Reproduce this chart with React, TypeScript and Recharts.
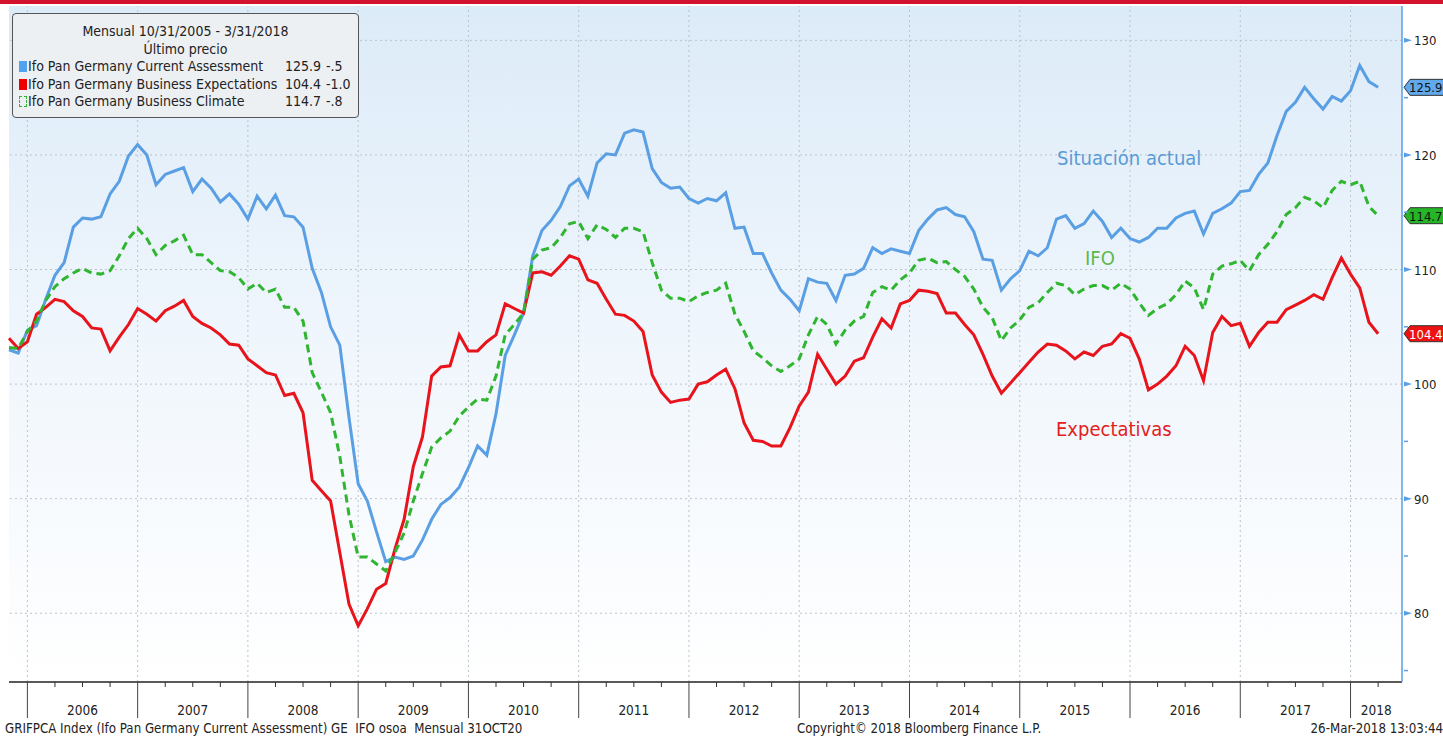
import React from "react";
import { LineChart, Line, XAxis, YAxis, ReferenceLine, ReferenceDot } from "recharts";

// Monthly readings, Oct 2005 .. Mar 2018 (150 months)
const currentAssessment = [
  103.0, 102.7, 104.7, 105.1, 107.4, 109.5, 110.6, 113.7, 114.5, 114.4, 114.6, 116.6,
  117.7, 119.9, 120.9, 120.0, 117.4, 118.3, 118.6, 118.9, 116.8, 117.9, 117.1, 115.9,
  116.6, 115.7, 114.4, 116.4, 115.3, 116.5, 114.7, 114.6, 113.7, 110.1, 108.0, 105.0,
  103.4, 97.1, 91.3, 89.8, 87.1, 84.5, 84.9, 84.7, 85.0, 86.4, 88.2, 89.5,
  90.1, 91.0, 92.7, 94.6, 93.8, 97.4, 102.5, 104.3, 106.2, 111.2, 113.4, 114.3,
  115.5, 117.3, 117.9, 116.4, 119.3, 120.1, 120.0, 121.9, 122.2, 122.0, 118.8, 117.6,
  117.1, 117.2, 116.2, 115.8, 116.2, 116.0, 116.7, 113.6, 113.7, 111.4, 111.4, 109.7,
  108.2, 107.4, 106.4, 109.2, 108.9, 108.8, 107.3, 109.5, 109.6, 110.1, 111.9, 111.4,
  111.8, 111.6, 111.4, 113.4, 114.4, 115.2, 115.4, 114.8, 114.6, 113.3, 110.9, 110.8,
  108.2, 109.2, 109.9, 111.6, 111.2, 111.9, 114.4, 114.7, 113.6, 114.0, 115.1, 114.2,
  112.8, 113.6, 112.7, 112.4, 112.8, 113.6, 113.6, 114.5, 114.9, 115.1, 113.1, 114.9,
  115.3, 115.8, 116.8, 116.9, 118.3, 119.3, 121.7, 123.8, 124.6, 125.9, 124.9, 124.0,
  125.1, 124.7, 125.6, 127.8, 126.4, 125.9,
];

const businessExpectations = [
  104.0, 103.1, 103.7, 106.1, 106.7, 107.4, 107.2, 106.4, 105.9, 104.9, 104.8, 102.9,
  104.1, 105.2, 106.6, 106.1, 105.5, 106.4, 106.8, 107.3, 105.9, 105.3, 104.9, 104.3,
  103.5, 103.4, 102.2, 101.6, 101.0, 100.8, 99.0, 99.2, 97.5, 91.6, 90.7, 89.8,
  85.3, 80.8, 78.9, 80.4, 82.1, 82.6, 85.6, 88.2, 92.8, 95.4, 100.7, 101.5,
  101.6, 104.3, 102.9, 102.9, 103.7, 104.3, 107.0, 106.6, 106.2, 109.7, 109.8, 109.5,
  110.3, 111.2, 110.9, 109.1, 108.8, 107.4, 106.1, 106.0, 105.5, 104.6, 100.8, 99.3,
  98.4, 98.6, 98.7, 100.0, 100.2, 100.8, 101.3, 99.6, 96.6, 95.1, 95.0, 94.6,
  94.6, 96.2, 98.1, 99.3, 102.6, 101.3, 100.0, 100.7, 102.0, 102.3, 104.1, 105.7,
  104.9, 107.0, 107.3, 108.2, 108.1, 107.9, 106.2, 106.2, 105.2, 104.3, 102.6, 100.7,
  99.2, 100.1, 101.0, 101.9, 102.8, 103.5, 103.4, 102.9, 102.2, 102.8, 102.5, 103.3,
  103.5, 104.4, 104.0, 102.2, 99.5, 100.0, 100.7, 101.6, 103.3, 102.5, 100.3, 104.5,
  105.9, 105.1, 105.3, 103.3, 104.5, 105.4, 105.4, 106.5, 106.9, 107.3, 107.8, 107.4,
  109.3, 111.0, 109.6, 108.4, 105.4, 104.4,
];

const businessClimate = [
  103.2, 103.1, 104.6, 105.5, 107.3, 108.5, 109.2, 109.7, 110.1, 109.7, 109.6, 109.9,
  111.2, 112.7, 113.6, 112.7, 111.3, 112.1, 112.5, 113.0, 111.3, 111.3, 110.6, 109.9,
  109.8, 109.3, 108.3, 108.8, 108.0, 108.3, 106.7, 106.7, 105.5, 101.0, 99.3, 97.5,
  93.7, 88.6, 84.9, 84.9, 84.3, 83.7, 85.3, 87.0, 89.8, 92.2, 94.5, 95.3,
  95.9, 97.2, 98.0, 98.7, 98.6, 100.7, 104.3, 105.2, 106.2, 110.9, 111.7, 111.9,
  112.8, 114.0, 114.2, 112.7, 113.9, 113.5, 112.8, 113.6, 113.6, 113.3, 110.6, 108.2,
  107.5, 107.5, 107.2, 107.7, 108.0, 108.2, 108.8, 106.1, 104.6, 102.9, 102.3, 101.6,
  101.1, 101.6, 102.2, 104.3, 105.9, 105.2, 103.5, 104.7, 105.5, 105.9, 108.0, 108.5,
  108.2, 109.1, 109.7, 110.8, 111.0, 110.6, 110.7, 110.0, 109.4, 108.3, 106.7, 105.8,
  103.8, 104.9, 105.6, 106.7, 107.1, 108.0, 108.8, 108.6, 107.8, 108.3, 108.6, 108.6,
  108.2, 108.8, 108.3, 107.1, 106.0, 106.6, 107.0, 107.8, 109.0, 108.4, 106.5, 109.6,
  110.3, 110.5, 110.8, 109.9, 111.3, 112.2, 113.3, 114.8, 115.4, 116.3, 116.0, 115.4,
  116.9, 117.7, 117.4, 117.7, 115.5, 114.7,
];

const yearLabels = ["2006", "2007", "2008", "2009", "2010", "2011", "2012", "2013", "2014", "2015", "2016", "2017", "2018"];
const yMajorTicks = [80, 90, 100, 110, 120, 130];
const yMinorTicks = [75, 85, 95, 105, 115, 125];

const legendRows = [
  { name: "Ifo Pan Germany Current Assessment", last: "125.9", chg: "-.5" },
  { name: "Ifo Pan Germany Business Expectations", last: "104.4", chg: "-1.0" },
  { name: "Ifo Pan Germany Business Climate", last: "114.7", chg: "-.8" },
];

const BLUE = "#5a9fe4";
const RED = "#e8131b";
const GREEN = "#2fb52f";
const FONT = '"DejaVu Sans", sans-serif';

const X_MAX = 151.6; // right edge of the plot, in months since Oct 2005
const Y_MIN = 74.0;
const Y_MAX = 133.0;
const PLOT_TOP = 6;
const PLOT_BOTTOM = 682;
const PLOT_RIGHT = 1402;

const data = currentAssessment.map((v, i) => ({
  i,
  current: v,
  expectations: businessExpectations[i],
  climate: businessClimate[i],
}));

// Dec of each year = boundary line, every 3 months a small tick
const yearBounds = yearLabels.map((_, k) => 2 + 12 * k);
const quarterTicks: number[] = [];
for (let m = 2; m <= X_MAX; m += 3) quarterTicks.push(m);
const labelPos = yearLabels.map((_, k) =>
  k < yearLabels.length - 1 ? 8 + 12 * k : (yearBounds[k] + X_MAX) / 2
);
const xTicks = Array.from(new Set([...quarterTicks, ...labelPos])).sort((a, b) => a - b);

const near = (a: number, b: number) => Math.abs(a - b) < 0.01;

const XTick = (props: any) => {
  const { x, payload } = props;
  const v = payload.value;
  const isYear = yearBounds.some((b) => near(b, v));
  const isQuarter = quarterTicks.some((q) => near(q, v));
  const li = labelPos.findIndex((p) => near(p, v));
  return (
    <g>
      {isYear && <line x1={x} x2={x} y1={PLOT_BOTTOM} y2={PLOT_BOTTOM + 36} stroke="#444" strokeWidth={1} />}
      {!isYear && isQuarter && (
        <line x1={x} x2={x} y1={PLOT_BOTTOM} y2={PLOT_BOTTOM + 5} stroke="#333" strokeWidth={1} />
      )}
      {li >= 0 && (
        <text x={x} y={PLOT_BOTTOM + 33} textAnchor="middle" fontSize={13.5} fill="#222" fontFamily={FONT} style={{ fontStretch: "condensed" }}>
          {yearLabels[li]}
        </text>
      )}
    </g>
  );
};

const YTick = (props: any) => {
  const { x, y, payload } = props;
  const major = yMajorTicks.includes(payload.value);
  return (
    <g>
      {major ? (
        <polygon points={`${x},${y - 2.5} ${x + 8},${y} ${x},${y + 2.5}`} fill={BLUE} />
      ) : (
        <line x1={x} x2={x + 4} y1={y} y2={y} stroke={BLUE} strokeWidth={1.5} />
      )}
      {major && (
        <text x={x + 10} y={y + 5} fontSize={13} fill="#222" fontFamily={FONT} style={{ fontStretch: "condensed" }}>
          {payload.value}
        </text>
      )}
    </g>
  );
};

const makeTag = (fill: string, textColor: string, label: string) => (props: any) => {
  const { cx, cy } = props;
  return (
    <g>
      <polygon
        points={`${cx + 2},${cy} ${cx + 8},${cy - 8} 1445,${cy - 8} 1445,${cy + 8} ${cx + 8},${cy + 8}`}
        fill={fill}
        stroke="#333"
        strokeWidth={1}
      />
      <text x={cx + 7} y={cy + 5} fontSize={13} fill={textColor} fontFamily={FONT} style={{ fontStretch: "condensed" }}>
        {label}
      </text>
    </g>
  );
};

const last = currentAssessment.length - 1;

export default function App() {
  return (
    <div
      style={{
        position: "relative",
        width: 1443,
        height: 736,
        background: "#fff",
        overflow: "hidden",
        fontFamily: FONT,
        fontStretch: "condensed",
      }}
    >
      <style>{"body{margin:0}"}</style>
      {/* red band on top */}
      <div style={{ position: "absolute", left: 0, top: 0, width: 1443, height: 4, background: "#d3122d" }} />
      {/* plot background */}
      <div
        style={{
          position: "absolute",
          left: 9,
          top: PLOT_TOP,
          width: PLOT_RIGHT - 9,
          height: PLOT_BOTTOM - PLOT_TOP,
          background: "linear-gradient(#dcebf8, #eef5fc 45%, #ffffff)",
        }}
      />
      <div style={{ position: "absolute", left: 0, top: 0 }}>
        <LineChart width={1443} height={736} data={data} margin={{ top: PLOT_TOP, right: 0, left: 9, bottom: 0 }}>
          <XAxis
            dataKey="i"
            type="number"
            domain={[0, X_MAX]}
            ticks={xTicks}
            interval={0}
            height={736 - PLOT_BOTTOM}
            tickLine={false}
            tickSize={0}
            axisLine={{ stroke: "#222", strokeWidth: 1.5 }}
            tick={<XTick />}
          />
          <YAxis
            orientation="right"
            type="number"
            domain={[Y_MIN, Y_MAX]}
            ticks={[...yMinorTicks, ...yMajorTicks].sort((a, b) => a - b)}
            interval={0}
            width={1443 - PLOT_RIGHT}
            tickLine={false}
            tickSize={0}
            axisLine={{ stroke: BLUE, strokeWidth: 1.5 }}
            tick={<YTick />}
          />
          {yMajorTicks.map((v) => (
            <ReferenceLine key={`h${v}`} y={v} stroke="#bcc3ca" strokeDasharray="2 3" />
          ))}
          {yearBounds.map((v) => (
            <ReferenceLine key={`v${v}`} x={v} stroke="#bcc3ca" strokeDasharray="2 3" />
          ))}
          <Line type="linear" dataKey="current" stroke={BLUE} strokeWidth={3} dot={false} isAnimationActive={false} />
          <Line type="linear" dataKey="expectations" stroke={RED} strokeWidth={3} dot={false} isAnimationActive={false} />
          <Line
            type="linear"
            dataKey="climate"
            stroke={GREEN}
            strokeWidth={3}
            strokeDasharray="8 5"
            dot={false}
            isAnimationActive={false}
          />
          <ReferenceDot x={X_MAX} y={currentAssessment[last]} r={0} ifOverflow="visible" shape={makeTag("#62a9ec", "#111", currentAssessment[last].toFixed(1))} />
          <ReferenceDot x={X_MAX} y={businessClimate[last]} r={0} ifOverflow="visible" shape={makeTag("#26b526", "#111", businessClimate[last].toFixed(1))} />
          <ReferenceDot x={X_MAX} y={businessExpectations[last]} r={0} ifOverflow="visible" shape={makeTag("#ee1111", "#fff", businessExpectations[last].toFixed(1))} />
        </LineChart>
      </div>

      {/* legend box */}
      <div
        style={{
          position: "absolute",
          left: 12,
          top: 13,
          width: 345,
          height: 103,
          border: "1px solid #555",
          borderRadius: 4,
          background: "#edf0f3",
          fontSize: 14,
          color: "#222",
          lineHeight: "17.5px",
        }}
      >
        <div style={{ textAlign: "center", marginTop: 9 }}>Mensual 10/31/2005 - 3/31/2018</div>
        <div style={{ textAlign: "center" }}>Último precio</div>
        {legendRows.map((r, k) => (
          <div key={r.name} style={{ position: "relative", height: 17.5 }}>
            <span
              style={{
                position: "absolute",
                left: 6,
                top: 3,
                width: 8,
                height: 11,
                background: k === 0 ? "#4fa3ef" : k === 1 ? "#ee0000" : "transparent",
                border: k === 2 ? `1px dashed ${GREEN}` : "none",
                boxSizing: "border-box",
              }}
            />
            <span style={{ position: "absolute", left: 15 }}>{r.name}</span>
            <span style={{ position: "absolute", left: 272 }}>{r.last}</span>
            <span style={{ position: "absolute", left: 313 }}>{r.chg}</span>
          </div>
        ))}
      </div>

      {/* series annotations */}
      <div style={{ position: "absolute", left: 1057, top: 146, fontSize: 20, color: "#5b9bd5", lineHeight: "24px" }}>
        Situación actual
      </div>
      <div style={{ position: "absolute", left: 1085, top: 246, fontSize: 20, color: "#5cb84a", lineHeight: "24px" }}>
        IFO
      </div>
      <div style={{ position: "absolute", left: 1056, top: 417, fontSize: 20, color: "#e3201c", lineHeight: "24px" }}>
        Expectativas
      </div>

      {/* footer */}
      <div style={{ position: "absolute", left: 5, top: 721, fontSize: 13.2, color: "#222", whiteSpace: "pre" }}>
        {"GRIFPCA Index (Ifo Pan Germany Current Assessment) GE  IFO osoa  Mensual 31OCT20"}
      </div>
      <div style={{ position: "absolute", left: 797, top: 721, fontSize: 13.2, color: "#222" }}>
        Copyright© 2018 Bloomberg Finance L.P.
      </div>
      <div style={{ position: "absolute", right: 0, top: 721, fontSize: 13.2, color: "#222" }}>
        26-Mar-2018 13:03:44
      </div>
    </div>
  );
}
